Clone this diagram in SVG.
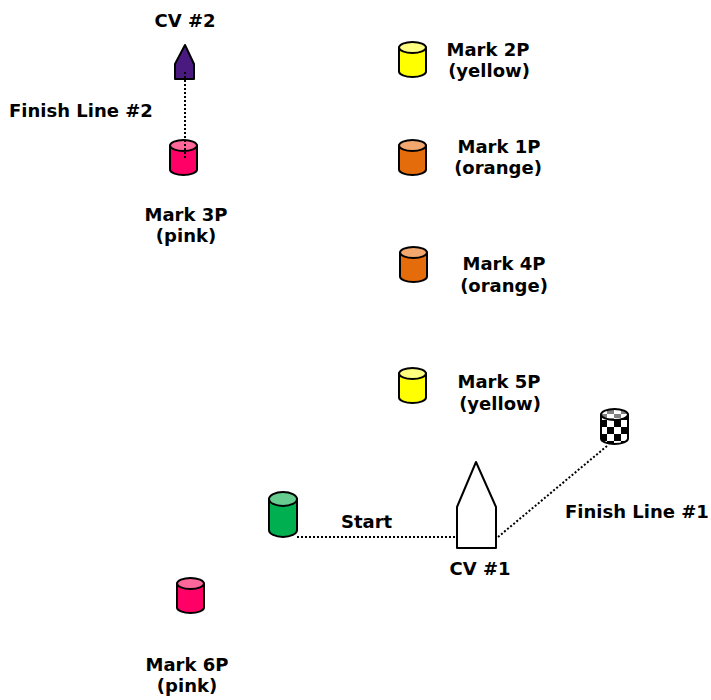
<svg xmlns="http://www.w3.org/2000/svg" width="711" height="700" viewBox="0 0 711 700">
<defs>
<style>
text{font-family:"DejaVu Sans","Verdana",sans-serif;font-weight:bold;font-size:18px;fill:#000}
.c{text-anchor:middle}
.body,.top,.boat{stroke:#000;stroke-width:2;stroke-linejoin:round}
.yellow .body{fill:#FFFF00}.yellow .top{fill:#FFFF80}
.orange .body{fill:#E46C0A}.orange .top{fill:#F2A76E}
.pink .body{fill:#FF0066}.pink .top{fill:#FF6699}
.green .body{fill:#00B050}.green .top{fill:#66CC8F}
.chk .body{fill:url(#chkBody)}.chk .top{fill:url(#chkTop)}
.dot{stroke:#000;stroke-width:2;stroke-dasharray:2 2;fill:none}
</style>
<path id="cylBody" d="M0,5.5 V29.5 A13.5,5.5 0 0 0 27,29.5 V5.5 Z"/>
<pattern id="chkBody" patternUnits="userSpaceOnUse" x="601" y="417" width="14" height="14">
<rect width="14" height="14" fill="#fff"/>
<rect width="7" height="7" fill="#000"/>
<rect x="7" y="7" width="7" height="7" fill="#000"/>
</pattern>
<pattern id="chkTop" patternUnits="userSpaceOnUse" x="601" y="409" width="14" height="8">
<rect width="14" height="8" fill="#fff"/>
<rect x="7" width="7" height="4" fill="#808080"/>
<rect y="4" width="7" height="4" fill="#808080"/>
</pattern>
</defs>

<g id="cv2">
<polygon class="boat" points="175,79 175,64 185,45 194,64 194,79" fill="#4A1A80" stroke-width="1.5"/>
<text class="c" x="185" y="27">CV #2</text>
</g>

<g id="mark3p" class="pink">
<g transform="translate(170,140)"><path class="body" d="M0,5.5 V29.5 A13.5,5.5 0 0 0 27,29.5 V5.5 Z"/><ellipse class="top" cx="13.5" cy="5.5" rx="13.5" ry="5.5"/></g>
<text class="c" x="186" y="221">Mark 3P</text>
<text class="c" x="186" y="242">(pink)</text>
</g>

<g id="mark2p" class="yellow">
<g transform="translate(399,42)"><path class="body" d="M0,5.5 V29.5 A13.5,5.5 0 0 0 27,29.5 V5.5 Z"/><ellipse class="top" cx="13.5" cy="5.5" rx="13.5" ry="5.5"/></g>
<text class="c" x="488" y="56">Mark 2P</text>
<text class="c" x="489" y="77">(yellow)</text>
</g>

<g id="mark1p" class="orange">
<g transform="translate(399,140)"><path class="body" d="M0,5.5 V29.5 A13.5,5.5 0 0 0 27,29.5 V5.5 Z"/><ellipse class="top" cx="13.5" cy="5.5" rx="13.5" ry="5.5"/></g>
<text class="c" x="499" y="153">Mark 1P</text>
<text class="c" x="498" y="174">(orange)</text>
</g>

<g id="mark4p" class="orange">
<g transform="translate(400,247)"><path class="body" d="M0,5.5 V29.5 A13.5,5.5 0 0 0 27,29.5 V5.5 Z"/><ellipse class="top" cx="13.5" cy="5.5" rx="13.5" ry="5.5"/></g>
<text class="c" x="504" y="270">Mark 4P</text>
<text class="c" x="504" y="292">(orange)</text>
</g>

<g id="mark5p" class="yellow">
<g transform="translate(399,368)"><path class="body" d="M0,5.5 V29.5 A13.5,5.5 0 0 0 27,29.5 V5.5 Z"/><ellipse class="top" cx="13.5" cy="5.5" rx="13.5" ry="5.5"/></g>
<text class="c" x="499" y="388">Mark 5P</text>
<text class="c" x="500" y="410">(yellow)</text>
</g>

<g id="finish1mark" class="chk">
<g transform="translate(601,409)"><path class="body" d="M0,5.5 V29.5 A13.5,5.5 0 0 0 27,29.5 V5.5 Z"/><ellipse class="top" cx="13.5" cy="5.5" rx="13.5" ry="5.5"/></g>
</g>

<g id="startmark" class="green">
<path class="body" d="M269,499 V530 A14,7 0 0 0 297,530 V499 Z"/>
<ellipse class="top" cx="283" cy="499" rx="14" ry="7"/>
</g>

<g id="cv1">
<polygon class="boat" points="457,548 457,507 476,462 496,507 496,548" fill="#fff" stroke-width="2.5"/>
<text class="c" x="480" y="575">CV #1</text>
</g>

<g id="mark6p" class="pink">
<g transform="translate(177,578)"><path class="body" d="M0,5.5 V29.5 A13.5,5.5 0 0 0 27,29.5 V5.5 Z"/><ellipse class="top" cx="13.5" cy="5.5" rx="13.5" ry="5.5"/></g>
<text class="c" x="187" y="671">Mark 6P</text>
<text class="c" x="187" y="692">(pink)</text>
</g>

<g id="connectors">
<line class="dot" x1="185" y1="72" x2="185" y2="160"/>
<line class="dot" x1="297" y1="537" x2="457" y2="537"/>
<line class="dot" x1="498" y1="537" x2="607" y2="446"/>
<text x="9" y="117">Finish Line #2</text>
<text x="341" y="528">Start</text>
<text x="565" y="518">Finish Line #1</text>
</g>
</svg>
